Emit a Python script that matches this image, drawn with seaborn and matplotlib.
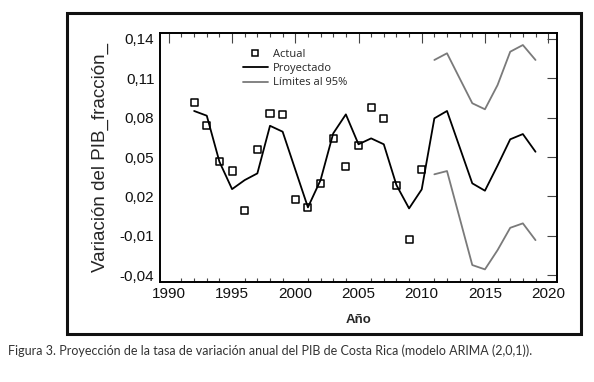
import numpy as np
import pandas as pd
import matplotlib
matplotlib.use("Agg")
import matplotlib.pyplot as plt
import seaborn as sns
from matplotlib.lines import Line2D
from matplotlib.patches import Rectangle
from matplotlib.ticker import MultipleLocator

sns.set_theme(style="white")
plt.rcParams['font.family'] = ['Liberation Sans', 'DejaVu Sans']

# ---- data ----
actual_years = list(range(1992, 2011))
actual_vals = [0.0914, 0.0738, 0.0469, 0.0393, 0.0093, 0.0558, 0.0835, 0.0825,
               0.0177, 0.0116, 0.0299, 0.0642, 0.0426, 0.0591, 0.0879, 0.0795,
               0.0286, -0.0126, 0.0406]

proj_years = list(range(1992, 2020))
proj_vals = [0.0851, 0.0815, 0.0464, 0.0255, 0.0324, 0.0375, 0.0738, 0.0693,
             0.0404, 0.0116, 0.0324, 0.0680, 0.0825, 0.0597, 0.0642, 0.0597,
             0.0286, 0.0108, 0.0253, 0.0795, 0.0851, 0.0575, 0.0299, 0.0243,
             0.0435, 0.0635, 0.0675, 0.0540]

lim_years = list(range(2011, 2020))
upper_vals = [0.1240, 0.1291, 0.1100, 0.0910, 0.0864, 0.1049, 0.1303, 0.1354, 0.1240]
lower_vals = [0.0368, 0.0393, 0.0035, -0.0324, -0.0357, -0.0210, -0.0040, -0.0006, -0.0134]

ytick_vals = [-0.04, -0.01, 0.02, 0.05, 0.08, 0.11, 0.14]
ytick_labels = ["-0,04", "-0,01", "0,02", "0,05", "0,08", "0,11", "0,14"]
xtick_vals = [1990, 1995, 2000, 2005, 2010, 2015, 2020]

df_act = pd.DataFrame({"year": actual_years, "val": actual_vals})
df_proj = pd.DataFrame({"year": proj_years, "val": proj_vals})
df_up = pd.DataFrame({"year": lim_years, "val": upper_vals})
df_lo = pd.DataFrame({"year": lim_years, "val": lower_vals})

fig = plt.figure(figsize=(5.94, 3.82), dpi=100)
ax = fig.add_axes([160/594, 1-281.7/382, 397/594, 249/382])

gray = "#7a7a7a"
sns.lineplot(data=df_proj, x="year", y="val", ax=ax, color="black", lw=1.3)
sns.lineplot(data=df_up, x="year", y="val", ax=ax, color=gray, lw=1.3)
sns.lineplot(data=df_lo, x="year", y="val", ax=ax, color=gray, lw=1.3)
sns.scatterplot(data=df_act, x="year", y="val", ax=ax, marker="s", s=26,
                facecolor="none", edgecolor="black", linewidth=1.1, zorder=5)

ax.set_xlim(1989.3, 2020.7)
ax.set_ylim(-0.0451, 0.1448)
ax.set_xticks(xtick_vals)
ax.xaxis.set_minor_locator(MultipleLocator(1))
ax.set_yticks(ytick_vals)
ax.set_yticklabels(ytick_labels)
ax.tick_params(axis="both", which="major", direction="in", length=7, width=0.8,
               color="#444444", labelsize=11, labelcolor="#111111",
               top=True, right=True, labelright=False, labeltop=False, pad=4)
ax.tick_params(axis="x", which="minor", direction="in", length=3, width=0.8,
               color="#444444", top=True, bottom=True)
for s in ax.spines.values():
    s.set_color("black")
    s.set_linewidth(1.4)

ax.set_xlabel("Año", fontsize=9.5, fontweight="bold", labelpad=9)
ax.set_ylabel("Variación del PIB_fracción_", fontsize=13.5, labelpad=8)

handles = [
    Line2D([], [], marker="s", ls="none", mfc="none", mec="black", ms=5, mew=1.1),
    Line2D([], [], color="black", lw=1.3),
    Line2D([], [], color=gray, lw=1.3),
]
labels = ["Actual", "Proyectado", "Límites al 95%"]
leg = ax.legend(handles, labels, loc="upper left", bbox_to_anchor=(0.19, 0.965),
                frameon=False, prop={"family": "Open Sans", "size": 8},
                handlelength=2.2, handletextpad=0.45, labelspacing=0.28,
                borderpad=0.2)

fig.patches.append(Rectangle((67/594, 1-334/382), 514/594, 321/382,
                             transform=fig.transFigure, fill=False,
                             edgecolor="#111111", lw=2.2))

fig.text(8/594, 1-351/382,
         "Figura 3. Proyección de la tasa de variación anual del PIB de Costa Rica (modelo ARIMA (2,0,1)).",
         fontsize=9.0, family="Lato", color="#333333", va="center", ha="left")

fig.savefig("out.png", dpi=100)
